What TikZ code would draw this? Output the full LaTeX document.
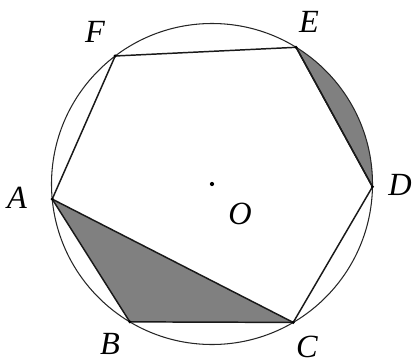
\documentclass[tikz,border=0pt]{standalone}
\usepackage{fontspec}
\setmainfont{Liberation Serif}
\usepackage{tikz}

\begin{document}
\begin{tikzpicture}[x=0.025cm, y=0.025cm,
  rim/.style={draw=black!85, line width=0.75pt},
  side/.style={draw=black!90, line width=1.05pt, line join=round},
  shade/.style={fill=black!50},
  vdot/.style={circle, fill=black, inner sep=0pt, minimum size=2.4pt},
  vlabel/.style={font=\fontsize{23}{26}\selectfont\itshape, inner sep=0pt},
]
\useasboundingbox (-212,-179) rectangle (202,184);
% ====== CIRCLE AND VERTICES ======
\coordinate (O) at (0,0);
\coordinate (A) at (185.4:160.5);
\coordinate (B) at (239.2:160.5);
\coordinate (C) at (300.4:160.5);
\coordinate (D) at (359:160.5);
\coordinate (E) at (58.4:160.5);
\coordinate (F) at (127.1:160.5);
%
% ====== SHADED PARTS ======
\fill[shade] (A) -- (B) -- (C) -- cycle;
\fill[shade] (E) arc[start angle=58.4, end angle=-1, radius=160.5] -- cycle;
%
\draw[rim] (O) circle[radius=160.5];
\draw[side] (A) -- (B) -- (C) -- (D) -- (E) -- (F) -- cycle;
\draw[side] (A) -- (C);
\draw[side] (E) -- (D);
%
\foreach \v in {A,B,C,D,E,F} \node[vdot] at (\v) {};
\node[vdot, minimum size=3pt] (o_dot) at (O) {};
%
% ====== LABELS ======
\node[vlabel] (lab_A) at (-195,-14) {A};
\node[vlabel] (lab_B) at (-102,-160) {B};
\node[vlabel] (lab_C) at (95,-163) {C};
\node[vlabel] (lab_D) at (188,-1) {D};
\node[vlabel] (lab_E) at (97,162.5) {E};
\node[vlabel] (lab_F) at (-117,152.5) {F};
\node[vlabel] (lab_O) at (28,-30) {O};
\end{tikzpicture}
\end{document}
